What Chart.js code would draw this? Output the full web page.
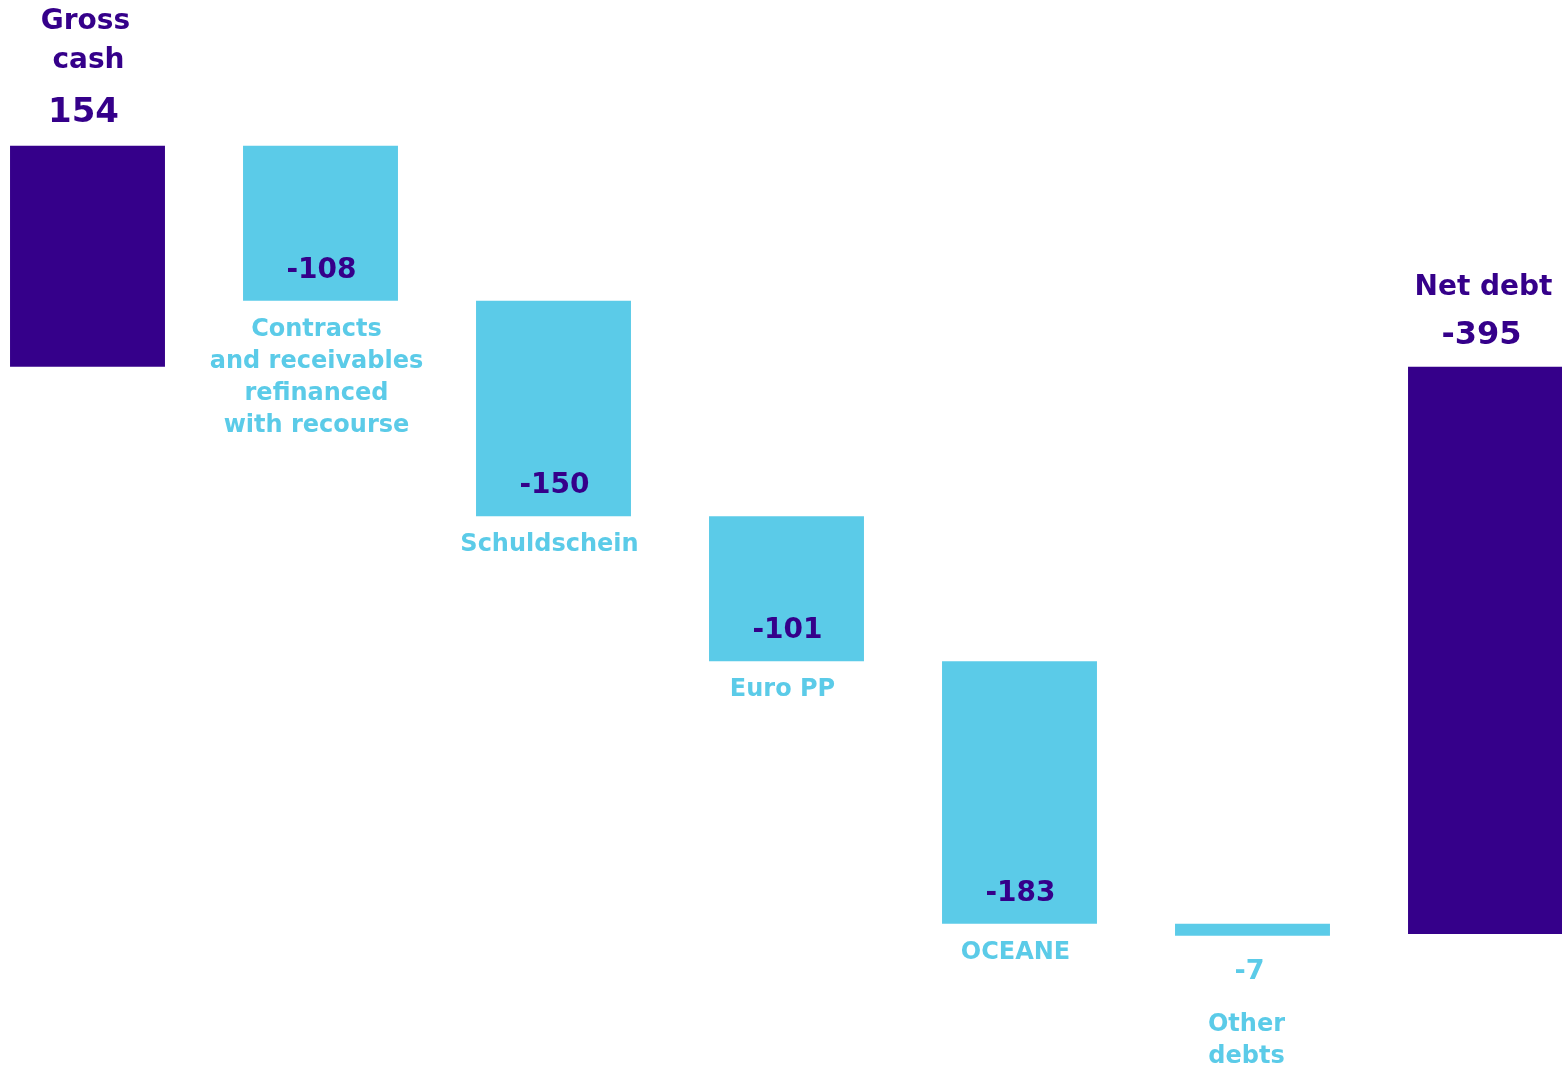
<!DOCTYPE html>
<html>
<head>
<meta charset="utf-8">
<script src="https://cdn.jsdelivr.net/npm/chart.js@4.4.1/dist/chart.umd.min.js"></script>
<style>
  html, body { margin: 0; padding: 0; background: #fff; overflow: hidden; }
  body { width: 1562px; height: 1066px; position: relative; }
  #wrap { position: absolute; left: -29px; top: 0; width: 1631px; height: 1066px; }
</style>
</head>
<body>
<div id="wrap"><canvas id="waterfall"></canvas></div>
<script>
const categories = [
  ["Gross", "cash"],
  ["Contracts", "and receivables", "refinanced", "with recourse"],
  ["Schuldschein"],
  ["Euro PP"],
  ["OCEANE"],
  ["Other", "debts"],
  ["Net debt"],
];
const grossCash = 154;
const debtSteps = [-108, -150, -101, -183, -7];
const netDebt = -395;

const DARK = "#35008a";
const LIGHT = "#5bcbe8";
const FONT = "'DejaVu Sans', sans-serif";

// floating bars: start/end of each step
const ranges = [[0, grossCash]];
let running = grossCash;
debtSteps.forEach((step) => {
  ranges.push([running, running + step]);
  running += step;
});
ranges.push([0, netDebt]);

const values = [grossCash, ...debtSteps, netDebt];
const colors = values.map((v, i) => (i === 0 || i === values.length - 1 ? DARK : LIGHT));

const labelPlugin = {
  id: "waterfallLabels",
  afterDatasetsDraw(chart) {
    const ctx = chart.ctx;
    const bars = chart.getDatasetMeta(0).data;
    ctx.save();
    ctx.textAlign = "center";
    ctx.textBaseline = "middle";
    bars.forEach((bar, i) => {
      const top = Math.min(bar.y, bar.base);
      const bottom = Math.max(bar.y, bar.base);
      const x = bar.x;
      const lines = categories[i];
      const last = bars.length - 1;
      const valText = values[i] > 0 ? String(values[i]) : "-" + Math.abs(values[i]);

      if (i === 0) {
        ctx.fillStyle = DARK;
        ctx.font = "700 28px " + FONT;
        ctx.fillText(lines[0], x - 2, top - 124);
        ctx.fillText(lines[1], x + 1, top - 85);
        ctx.font = "700 34px " + FONT;
        ctx.fillText(valText, x - 4, top - 33);
      } else if (i === last) {
        ctx.fillStyle = DARK;
        ctx.font = "700 28px " + FONT;
        ctx.fillText(lines[0], x - 2, top - 79);
        ctx.font = "700 32px " + FONT;
        ctx.fillText(valText, x - 4, top - 31);
      } else if (i === last - 1) {
        ctx.fillStyle = LIGHT;
        ctx.font = "700 27px " + FONT;
        ctx.fillText(valText, x - 3, bottom + 36);
        ctx.font = "700 24px " + FONT;
        lines.forEach((line, k) => ctx.fillText(line, x - 6, bottom + 89 + k * 32));
      } else {
        ctx.fillStyle = DARK;
        ctx.font = "700 28px " + FONT;
        ctx.fillText(valText, x + 1, bottom - 30);
        ctx.fillStyle = LIGHT;
        ctx.font = "700 24px " + FONT;
        lines.forEach((line, k) => ctx.fillText(line, x - 4, bottom + 29 + k * 32));
      }
    });
    ctx.restore();
  },
};

new Chart(document.getElementById("waterfall"), {
  type: "bar",
  data: {
    labels: categories.map((c) => c.join(" ")),
    datasets: [
      {
        data: ranges,
        backgroundColor: colors,
        borderWidth: 0,
        categoryPercentage: 1,
        barPercentage: 0.665,
        minBarLength: 12,
      },
    ],
  },
  options: {
    responsive: true,
    maintainAspectRatio: false,
    animation: false,
    layout: { padding: 0 },
    plugins: {
      legend: { display: false },
      tooltip: { enabled: false },
    },
    scales: {
      x: { display: false },
      y: { display: false, min: -487, max: 255.5 },
    },
  },
  plugins: [labelPlugin],
});
</script>
</body>
</html>
